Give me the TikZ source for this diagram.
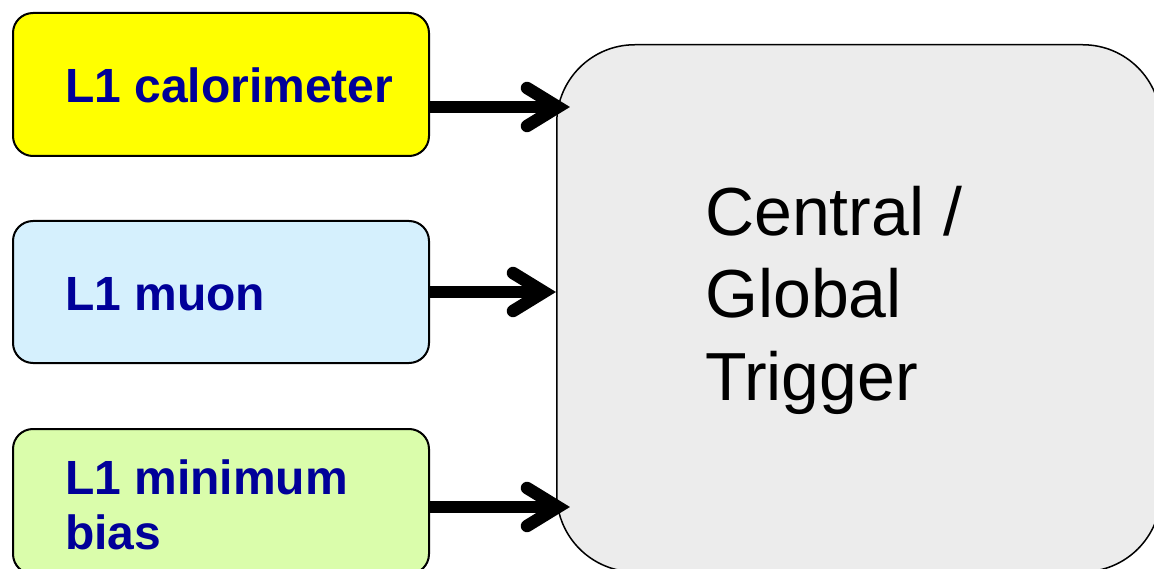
\documentclass[tikz,border=0pt]{standalone}
\usepackage{fontspec}
\setmainfont{Liberation Sans}
\definecolor{calfill}{HTML}{FFFF00}
\definecolor{muonfill}{HTML}{D5F0FD}
\definecolor{biasfill}{HTML}{DAFDAB}
\definecolor{gtfill}{HTML}{ECECEC}
\definecolor{labelblue}{HTML}{000099}
\tikzset{
  srcbox/.style={draw=black, line width=2pt, rounded corners=20pt, anchor=north west,
    minimum width=416pt, inner sep=0pt},
  gtbox/.style={draw=black, line width=1.5pt, rounded corners=78pt, fill=gtfill,
    anchor=north west, minimum width=604pt, minimum height=527pt, inner sep=0pt},
  srclabel/.style={font=\fontsize{48}{55}\selectfont\bfseries, text=labelblue,
    inner sep=0pt, anchor=base west, align=left},
  gtlabel/.style={font=\fontsize{68}{82.5}\selectfont, text=black,
    inner sep=0pt, anchor=base west, align=left},
  shaft/.style={line width=12.5pt, line cap=butt},
  barb/.style={line width=12.5pt, line cap=round, line join=miter},
}
\begin{document}
\begin{tikzpicture}[x=1pt, y=-1pt]
  \useasboundingbox (0,0) rectangle (1154,569);
  \clip (0,0) rectangle (1154,569);

  % central / global trigger block
  \node[gtbox] (gt) at (556,44) {};

  % level-1 source blocks
  \node[srcbox, fill=calfill, minimum height=143pt] (cal) at (12,12) {};
  \node[srcbox, fill=muonfill, minimum height=142pt] (muon) at (12,220) {};
  \node[srcbox, fill=biasfill, minimum height=145pt] (bias) at (12,428) {};

  % block texts (base anchor sits on the last line)
  \node[srclabel] (calT) at (65,103) {L1 calorimeter};
  \node[srclabel] (muonT) at (65,311) {L1 muon};
  \node[srclabel] (biasT) at (65,549) {L1 minimum\\bias};
  \node[gtlabel] (gtT) at (705,400) {Central /\\Global\\Trigger};

  % arrow tips (chevron vertices)
  \coordinate (tA) at (558,107);
  \coordinate (tB) at (544,292);
  \coordinate (tC) at (558,507);

  % connectors
  \foreach \src/\tip in {cal/tA, muon/tB, bias/tC}{
    \draw[shaft] (\src.east |- \tip) -- (\tip);
    \draw[barb] ([shift={(-31,-19)}]\tip) -- (\tip) -- ([shift={(-31,19)}]\tip);
  }
\end{tikzpicture}
\end{document}
